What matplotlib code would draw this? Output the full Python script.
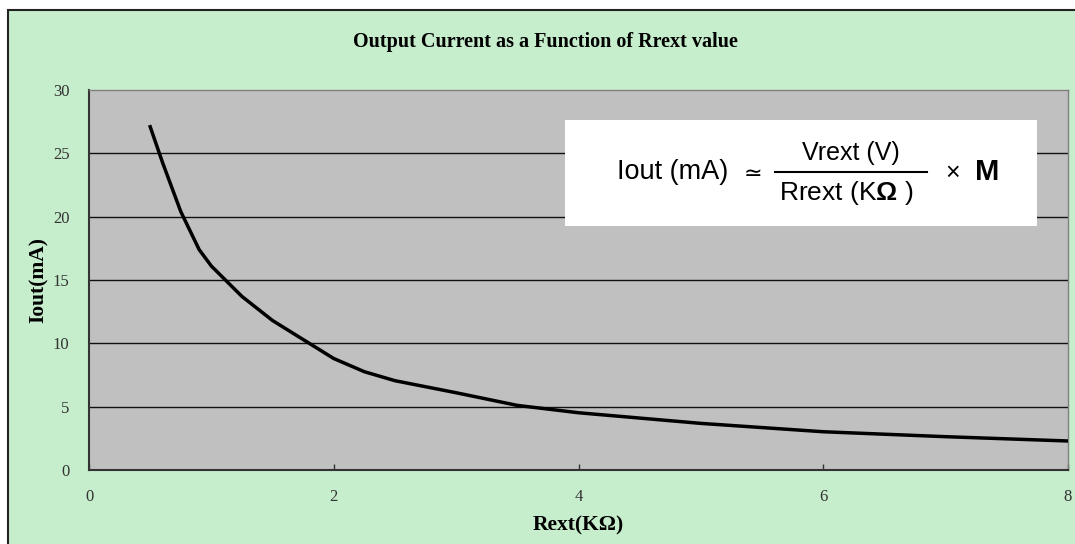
import matplotlib.pyplot as plt
from matplotlib.patches import Rectangle

# Rext (kOhm) vs output current (mA)
rext = [0.5, 0.6, 0.75, 0.9, 1.0, 1.25, 1.5, 1.75, 2.0, 2.25, 2.5, 3.0, 3.5, 4.0, 5.0, 6.0, 7.0, 8.0]
iout = [27.1, 24.3, 20.4, 17.4, 16.1, 13.7, 11.8, 10.3, 8.8, 7.76, 7.05, 6.1, 5.1, 4.52, 3.68, 3.02, 2.63, 2.29]
xticks = [0, 2, 4, 6, 8]
yticks = [0, 5, 10, 15, 20, 25, 30]

plt.rcParams['mathtext.fontset'] = 'custom'
plt.rcParams['mathtext.rm'] = 'Liberation Sans'
plt.rcParams['mathtext.bf'] = 'Liberation Sans:bold'

fig = plt.figure(figsize=(10.75, 5.44), dpi=100, facecolor='white')
fig.patches.append(Rectangle((8 / 1075, -0.01), 1.0, (544 - 10) / 544 + 0.01,
                             transform=fig.transFigure, facecolor='#C6EDCC',
                             edgecolor='#222222', linewidth=1.5, zorder=-5))

ax = fig.add_axes([89 / 1075, 74 / 544, 979 / 1075, 380 / 544])
ax.set_zorder(2)
ax.set_facecolor('#C0C0C0')
ax.plot(rext, iout, color='black', linewidth=2.5, zorder=3)
ax.set_xlim(0, 8)
ax.set_ylim(0, 30)
ax.set_xticks(xticks)
ax.set_yticks(yticks)
for y in yticks[1:-1]:
    ax.axhline(y, color='#111111', linewidth=1, zorder=1)

for s in ['top', 'right']:
    ax.spines[s].set_color('#808080')
    ax.spines[s].set_linewidth(1)
for s in ['left', 'bottom']:
    ax.spines[s].set_color('#333333')
    ax.spines[s].set_linewidth(1.5)

ax.tick_params(axis='x', direction='in', length=4, width=1, color='#333333', pad=14,
               labelsize=12, labelcolor='#333333')
ax.tick_params(axis='y', length=0, pad=14, labelsize=12, labelcolor='#333333')
for lab in ax.get_xticklabels() + ax.get_yticklabels():
    lab.set_fontfamily('Liberation Serif')

ax.set_xlabel('Rext(KΩ)', fontfamily='Liberation Serif', fontweight='bold',
              fontsize=15.5, labelpad=7)
ax.set_ylabel('Iout(mA)', fontfamily='Liberation Serif', fontweight='bold',
              fontsize=15.5, labelpad=3)
fig.text(0.507, 0.923, 'Output Current as a Function of Rrext value',
         fontfamily='Liberation Serif', fontweight='bold', fontsize=14.5,
         ha='center', va='center')

# formula box
ax.add_patch(Rectangle((0.486, 0.642), 0.482, 0.279, transform=ax.transAxes,
                       facecolor='white', edgecolor='none', zorder=4))

def px(x, y):
    return ((x - 89) / 979, (470 - y) / 380)

sans = 'Liberation Sans'
ax.text(*px(617, 172), 'Iout (mA)', transform=ax.transAxes, fontsize=19.5,
        fontfamily=sans, ha='left', va='center', zorder=5)
ax.text(*px(753, 174), '≃', transform=ax.transAxes, fontsize=16,
        fontfamily='DejaVu Sans', ha='center', va='center', zorder=5)
ax.text(*px(851, 153), 'Vrext (V)', transform=ax.transAxes, fontsize=18,
        fontfamily=sans, ha='center', va='center', zorder=5)
ax.text(*px(846, 193), r'Rrext (K$\mathbf{\Omega}$ )', transform=ax.transAxes,
        fontsize=19, fontfamily=sans, ha='center', va='center', zorder=5)
x0, y0 = px(775, 172)
x1, _ = px(927, 172)
ax.plot([x0, x1], [y0, y0], transform=ax.transAxes, color='black',
        linewidth=1.5, zorder=5)
ax.text(*px(953, 173), '×', transform=ax.transAxes, fontsize=18,
        fontfamily=sans, ha='center', va='center', zorder=5)
ax.text(*px(987, 172), 'M', transform=ax.transAxes, fontsize=21,
        fontfamily=sans, fontweight='bold', ha='center', va='center', zorder=5)

fig.savefig('out.png', dpi=100, facecolor=fig.get_facecolor())
